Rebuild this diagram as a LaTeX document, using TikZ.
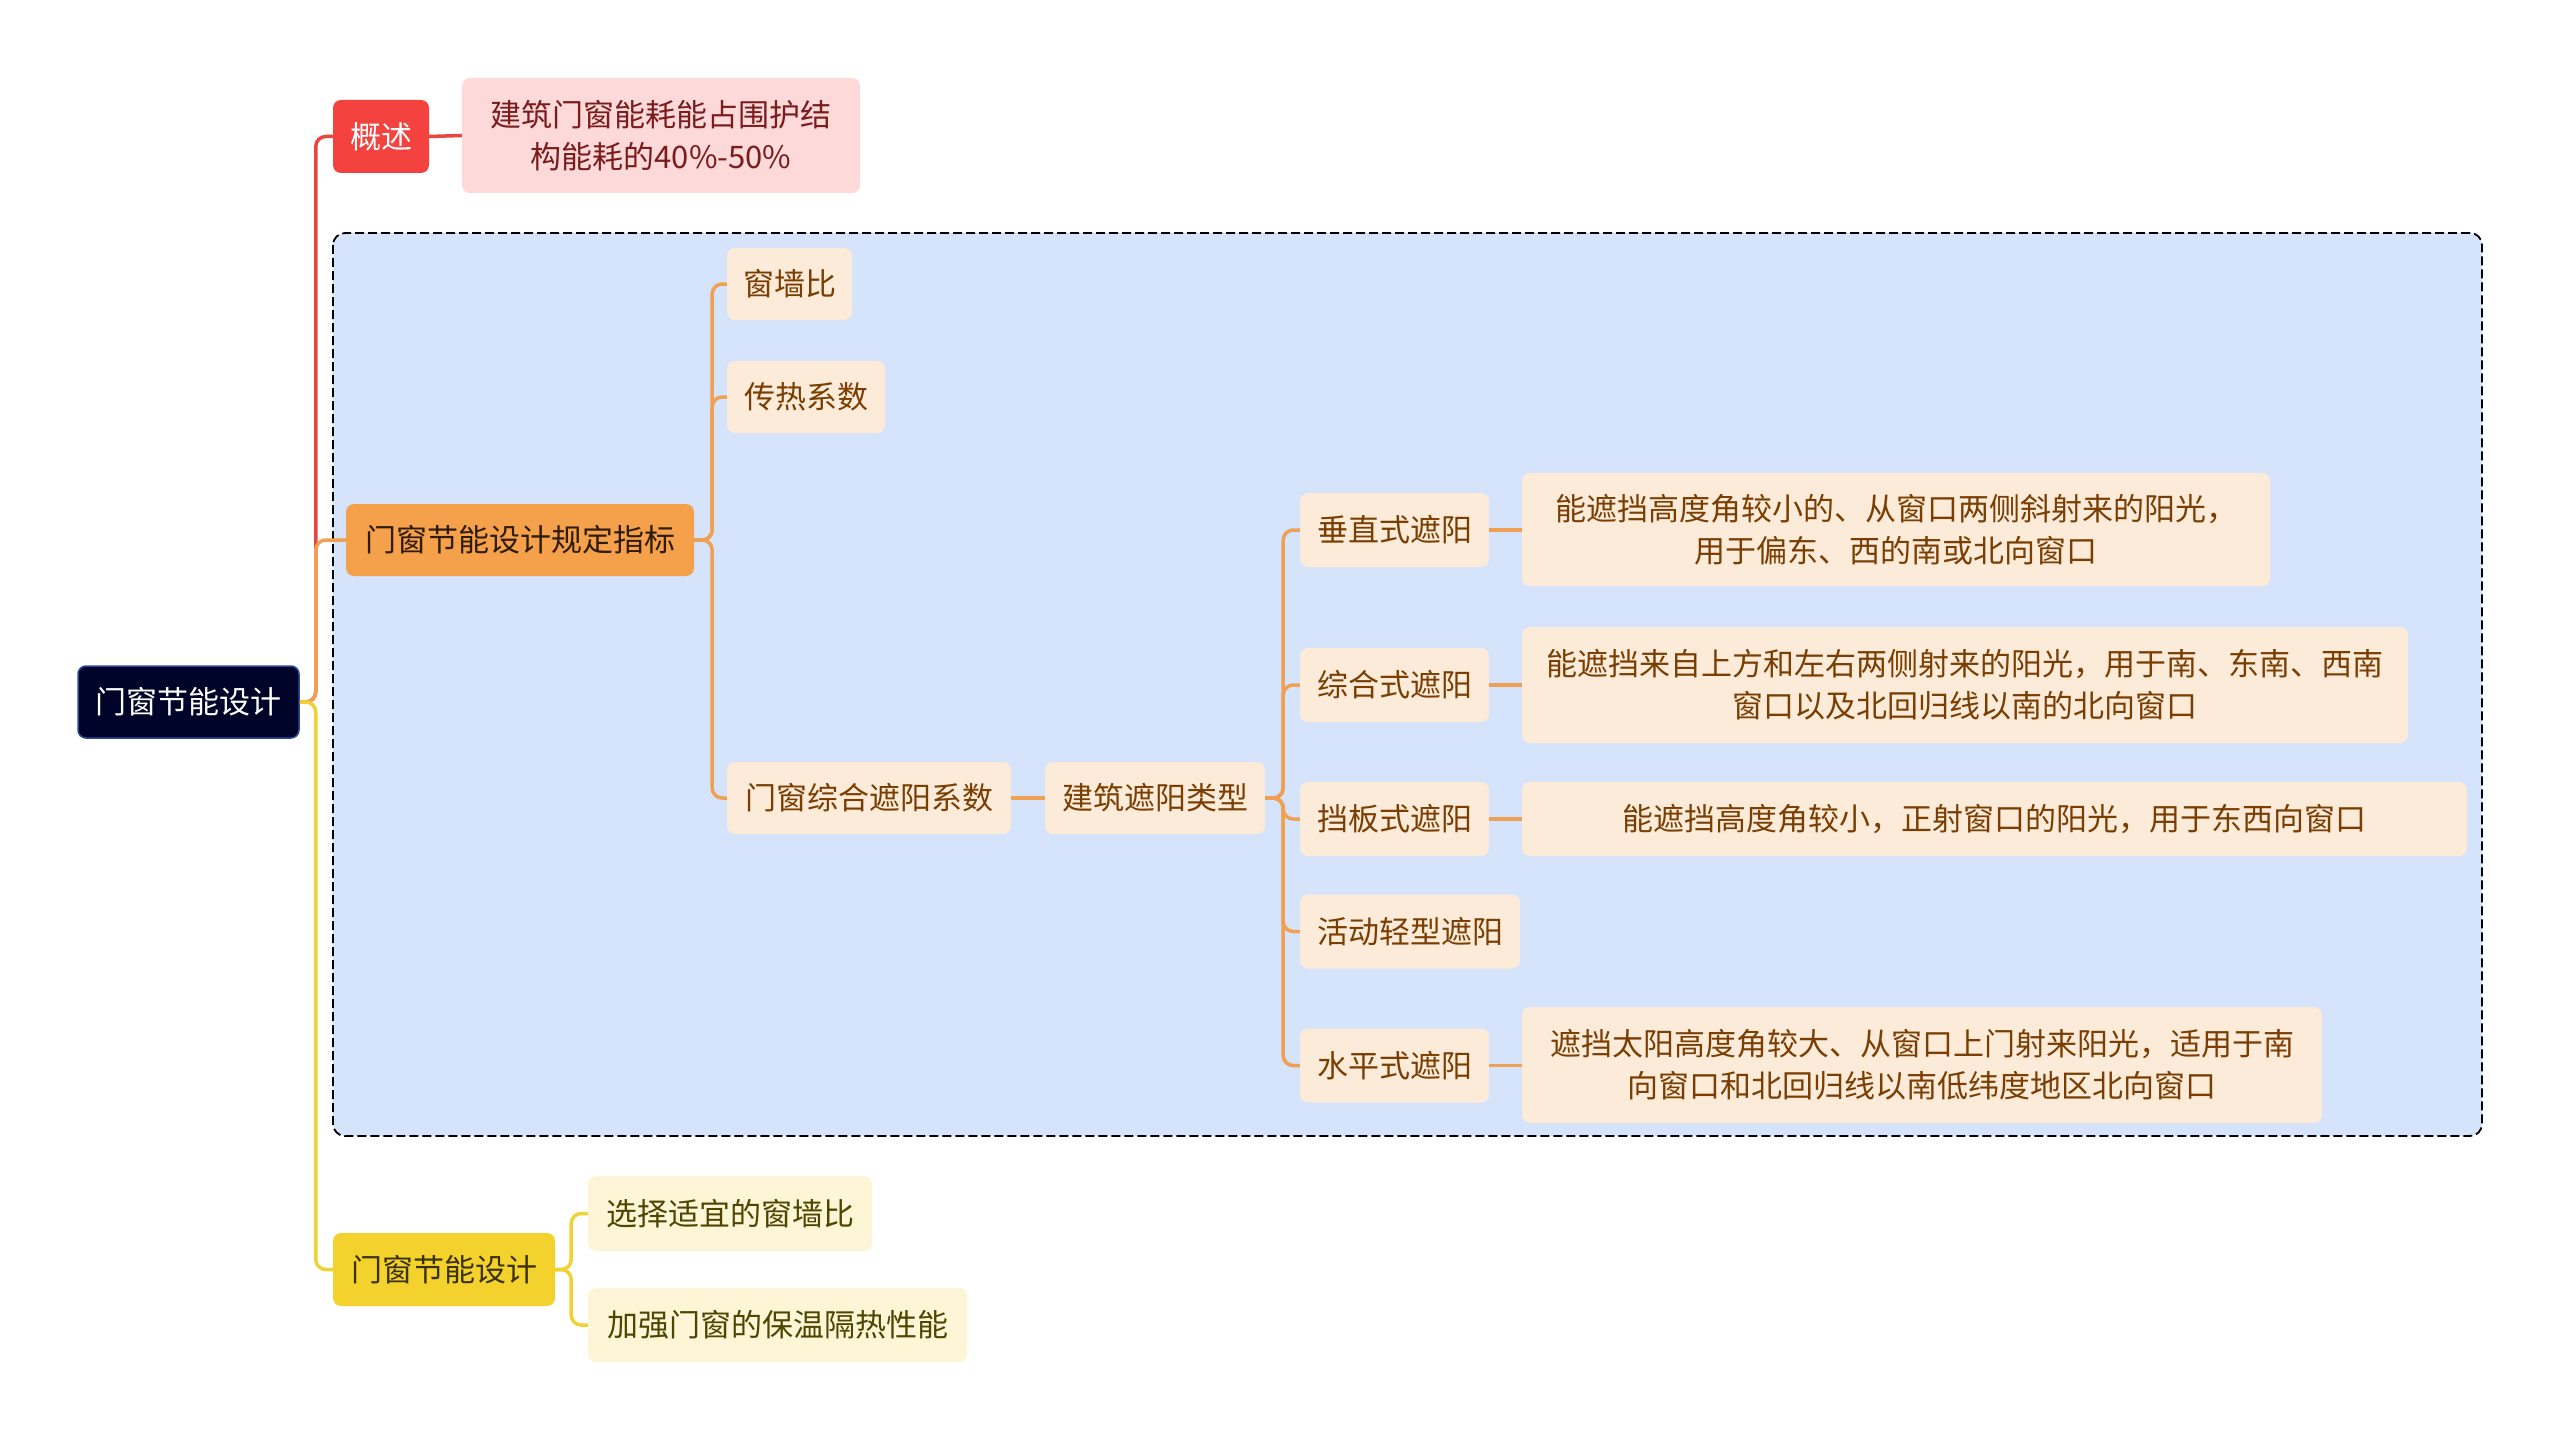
\documentclass[tikz,border=0pt]{standalone}
\usepackage{fontspec}
\setmainfont{Noto Sans CJK SC}
\usetikzlibrary{calc}
\definecolor{cRootFill}{HTML}{000428}
\definecolor{cRootDraw}{HTML}{2A4A9A}
\definecolor{cRed}{HTML}{F4433E}
\definecolor{cRedLine}{HTML}{E8473D}
\definecolor{cPink}{HTML}{FDD9D9}
\definecolor{cPinkText}{HTML}{7A1C1C}
\definecolor{cOrange}{HTML}{F5A04B}
\definecolor{cOrangeText}{HTML}{2E1C06}
\definecolor{cOrangeLine}{HTML}{F0A052}
\definecolor{cCream}{HTML}{FDEBD9}
\definecolor{cCreamText}{HTML}{7A3E02}
\definecolor{cYellow}{HTML}{F3D22E}
\definecolor{cYellowText}{HTML}{3A3200}
\definecolor{cYellowLine}{HTML}{F0D235}
\definecolor{cLYellow}{HTML}{FDF6D6}
\definecolor{cLYellowText}{HTML}{4E4500}
\definecolor{cBlue}{HTML}{D5E4FB}
\tikzset{
  base/.style={rounded corners=8pt, inner sep=0pt, align=center, font=\fontsize{31}{42}\selectfont},
  rootbox/.style={base, fill=cRootFill, draw=cRootDraw, line width=1.5pt, text=white},
  redbox/.style={base, fill=cRed, text=white},
  pinkbox/.style={base, fill=cPink, text=cPinkText},
  orangebox/.style={base, fill=cOrange, text=cOrangeText},
  creambox/.style={base, fill=cCream, text=cCreamText},
  yellowbox/.style={base, fill=cYellow, text=cYellowText},
  lyellowbox/.style={base, fill=cLYellow, text=cLYellowText},
  redconn/.style={draw=cRedLine, line width=3.5pt, rounded corners=10pt},
  orangeconn/.style={draw=cOrangeLine, line width=3.5pt, rounded corners=10pt},
  yellowconn/.style={draw=cYellowLine, line width=3.5pt, rounded corners=10pt},
  sz/.style 2 args={minimum width=#1pt, minimum height=#2pt}
}
\begin{document}
\begin{tikzpicture}[x=1pt,y=-1pt]
\useasboundingbox (0,0) rectangle (2560,1442);
\fill[white] (0,0) rectangle (2560,1442);
% dashed group box
\draw[fill=cBlue, draw=black, dashed, line width=1.8pt, dash pattern=on 9pt off 4pt, rounded corners=12pt] (333,233) rectangle (2482,1136);
% nodes
\node[rootbox, sz={221}{72}] (root) at (188.5,702) {门窗节能设计};
\node[redbox, sz={96}{73}] (gs) at (381,136.5) {概述};
\node[pinkbox, sz={398}{115}] (gsd) at (661,135.5) {建筑门窗能耗能占围护结\\构能耗的40\%-50\%};
\node[orangebox, sz={348}{72}] (zb) at (520,540) {门窗节能设计规定指标};
\node[creambox, sz={125}{72}] (cqb) at (789.5,284) {窗墙比};
\node[creambox, sz={158}{72}] (crxs) at (806,397) {传热系数};
\node[creambox, sz={284}{72}] (zyxs) at (869,798) {门窗综合遮阳系数};
\node[creambox, sz={220}{72}] (zylx) at (1155,798) {建筑遮阳类型};
\node[creambox, sz={189}{74}] (t1) at (1394.5,530) {垂直式遮阳};
\node[creambox, sz={189}{74}] (t2) at (1394.5,685) {综合式遮阳};
\node[creambox, sz={189}{74}] (t3) at (1394.5,819) {挡板式遮阳};
\node[creambox, sz={220}{74}] (t4) at (1410,931.5) {活动轻型遮阳};
\node[creambox, sz={189}{74}] (t5) at (1394.5,1065.5) {水平式遮阳};
\node[creambox, sz={748}{113}] (d1) at (1896,529.5) {能遮挡高度角较小的、从窗口两侧斜射来的阳光，\\用于偏东、西的南或北向窗口};
\node[creambox, sz={886}{116}] (d2) at (1965,685) {能遮挡来自上方和左右两侧射来的阳光，用于南、东南、西南\\窗口以及北回归线以南的北向窗口};
\node[creambox, sz={945}{74}] (d3) at (1994.5,819) {能遮挡高度角较小，正射窗口的阳光，用于东西向窗口};
\node[creambox, sz={800}{116}] (d5) at (1922,1065) {遮挡太阳高度角较大、从窗口上门射来阳光，适用于南\\向窗口和北回归线以南低纬度地区北向窗口};
\node[yellowbox, sz={222}{73}] (yl) at (444,1269.5) {门窗节能设计};
\node[lyellowbox, sz={284}{75}] (y1) at (730,1213.5) {选择适宜的窗墙比};
\node[lyellowbox, sz={379}{74}] (y2) at (777.5,1325) {加强门窗的保温隔热性能};
% connectors from root
\draw[redconn] (root.east) -- ++(16,0) |- (gs.west);
\draw[redconn] (gs.east) -- (gsd.west);
\draw[orangeconn] (root.east) -- ++(16,0) |- (zb.west);
\draw[yellowconn] (root.east) -- ++(16,0) |- (yl.west);
% orange subtree
\draw[orangeconn] (zb.east) -- ++(18,0) |- (cqb.west);
\draw[orangeconn] (zb.east) -- ++(18,0) |- (crxs.west);
\draw[orangeconn] (zb.east) -- ++(18,0) |- (zyxs.west);
\draw[orangeconn] (zyxs.east) -- (zylx.west);
\draw[orangeconn] (zylx.east) -- ++(18,0) |- (t1.west);
\draw[orangeconn] (zylx.east) -- ++(18,0) |- (t2.west);
\draw[orangeconn] (zylx.east) -- ++(18,0) |- (t3.west);
\draw[orangeconn] (zylx.east) -- ++(18,0) |- (t4.west);
\draw[orangeconn] (zylx.east) -- ++(18,0) |- (t5.west);
\draw[orangeconn] (t1.east) -- (d1.west |- t1.east);
\draw[orangeconn] (t2.east) -- (d2.west |- t2.east);
\draw[orangeconn] (t3.east) -- (d3.west);
\draw[orangeconn] (t5.east) -- (d5.west |- t5.east);
% yellow subtree
\draw[yellowconn] (yl.east) -- ++(16,0) |- (y1.west);
\draw[yellowconn] (yl.east) -- ++(16,0) |- (y2.west);
\end{tikzpicture}
\end{document}
